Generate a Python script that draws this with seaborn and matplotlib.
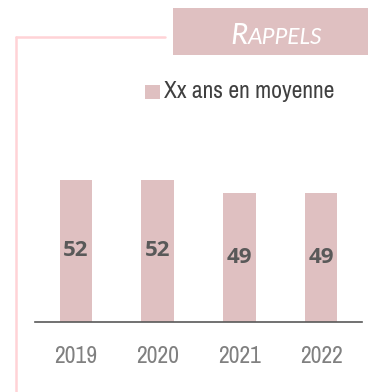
import matplotlib
matplotlib.use("Agg")
import matplotlib.pyplot as plt
from matplotlib.lines import Line2D
from matplotlib.patches import Rectangle
import seaborn as sns
import pandas as pd

years = ["2019", "2020", "2021", "2022"]
ages = [52, 52, 49, 49]
legend_label = "Xx ans en moyenne"
title_text = "Rappels"

BAR = "#dfc0c1"
FRAME = "#ffd3d6"
W, H = 368, 392

sns.set_theme(style="white")
plt.rcParams["font.family"] = ["Archivo Narrow", "DejaVu Sans"]

fig = plt.figure(figsize=(W / 100, H / 100), dpi=100)
ax = fig.add_axes([35 / W, 1 - 322 / H, (362 - 35) / W, (322 - 160) / H])

df = pd.DataFrame({"year": years, "age": ages})
sns.barplot(data=df, x="year", y="age", color=BAR, saturation=1,
            width=0.4, ax=ax, edgecolor="none")

ymin, ymax = 19.2, 56.6
ax.set_ylim(ymin, ymax)
ax.set_xlim(-0.5, 3.5)

for i, v in enumerate(ages):
    ax.text(i, (v + ymin) / 2, str(v), ha="center", va="center",
            fontsize=16, fontweight="bold", color="#595959",
            family=["Open Sans", "DejaVu Sans"])

for s in ["top", "right", "left"]:
    ax.spines[s].set_visible(False)
ax.spines["bottom"].set_color("#595959")
ax.spines["bottom"].set_linewidth(1.2)
ax.set_yticks([])
ax.set_xlabel("")
ax.set_ylabel("")
ax.tick_params(axis="x", length=0, pad=17, labelsize=17, labelcolor="#808080")

# decorative frame line
fig.add_artist(Line2D([16 / W, 165 / W], [1 - 37 / H, 1 - 37 / H],
                      transform=fig.transFigure, color=FRAME, lw=1.8))
fig.add_artist(Line2D([16 / W, 16 / W], [1 - 37 / H, 0],
                      transform=fig.transFigure, color=FRAME, lw=1.8))

# title banner
fig.add_artist(Rectangle((173 / W, 1 - 55 / H), (368 - 173) / W, 47 / H,
                         transform=fig.transFigure, facecolor=BAR,
                         edgecolor="none"))

# legend
fig.add_artist(Rectangle((145 / W, 1 - 99 / H), 15 / W, 14 / H,
                         transform=fig.transFigure, facecolor=BAR,
                         edgecolor="none"))
fig.text(164 / W, 1 - 92 / H, legend_label, ha="left", va="center",
         fontsize=17, color="#404040")

# small-caps title
base_y = 1 - 43.5 / H
title_font = ["Carlito", "Lato", "DejaVu Sans"]
t1 = fig.text(0, base_y, title_text[0].upper(), ha="left", va="baseline",
              fontsize=23, style="italic", color="white", family=title_font)
t2 = fig.text(0, base_y, title_text[1:].upper(), ha="left", va="baseline",
              fontsize=18, style="italic", color="white", family=title_font)
fig.canvas.draw()
r = fig.canvas.get_renderer()
w1 = t1.get_window_extent(r).width
w2 = t2.get_window_extent(r).width
x0 = 276 - (w1 + w2) / 2
t1.set_x(x0 / W)
t2.set_x((x0 + w1) / W)

fig.savefig("out.png", dpi=100)
